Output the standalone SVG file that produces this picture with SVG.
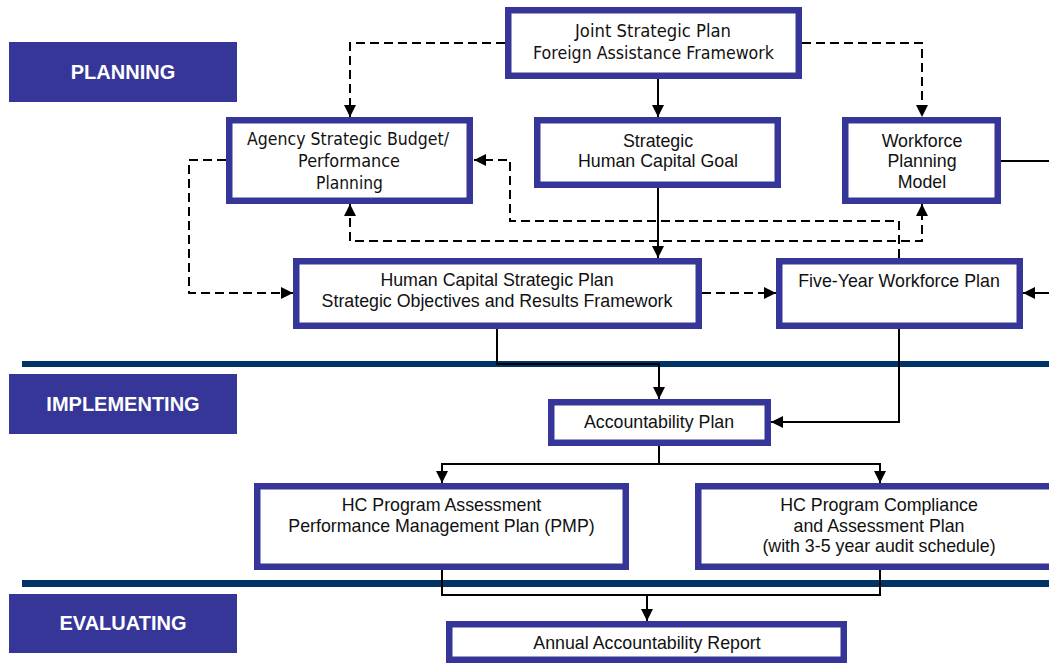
<svg xmlns="http://www.w3.org/2000/svg" width="1049" height="663" viewBox="0 0 1049 663">
<style>
.lbl{fill:#363699}
.lt{font-family:"Liberation Sans",Arial,sans-serif;font-weight:bold;font-size:20px;fill:#fff;text-anchor:middle}
.box{fill:#fff;stroke:#363699;stroke-width:6.5}
.t{font-family:"Liberation Sans",Arial,sans-serif;font-size:17.8px;fill:#111;text-anchor:middle}
.th{font-family:"DejaVu Sans",Tahoma,sans-serif;font-size:17.5px;fill:#111;text-anchor:middle}
.sep{fill:#003366}
.s{fill:none;stroke:#000;stroke-width:2}
.d{fill:none;stroke:#000;stroke-width:2;stroke-dasharray:9,5}
.a{marker-end:url(#ah)}
</style>
<defs>
<marker id="ah" markerUnits="userSpaceOnUse" markerWidth="12" markerHeight="12" refX="12" refY="6" orient="auto-start-reverse" viewBox="0 0 12 12">
<path d="M0,0 L12,6 L0,12 Z" fill="#000"/>
</marker>
</defs>

<g id="labels">
<g id="lbl-planning"><rect class="lbl" x="9" y="42" width="228" height="60"/><text class="lt" x="123" y="78.5">PLANNING</text></g>
<g id="lbl-implementing"><rect class="lbl" x="9" y="374" width="228" height="60"/><text class="lt" x="123" y="410.5">IMPLEMENTING</text></g>
<g id="lbl-evaluating"><rect class="lbl" x="9" y="594" width="228" height="59"/><text class="lt" x="123" y="629.5">EVALUATING</text></g>
</g>

<g id="separators">
<rect class="sep" x="22" y="361" width="1027" height="6"/>
<rect class="sep" x="22" y="580" width="1027" height="7"/>
</g>

<g id="connectors">
<path class="s a" d="M658,79 V117"/>
<path class="s a" d="M658,188 V258"/>
<path class="s a" d="M497,329 V364 H659 V399"/>
<path class="s a" d="M899,329 V422 H771"/>
<path class="s" d="M1001,161 H1049"/>
<path class="s a" d="M1049,293 H1023"/>
<path class="s" d="M659,446 V464"/>
<path class="s a" d="M659,464 H442 V483"/>
<path class="s a" d="M659,464 H880 V483"/>
<path class="s" d="M442,570 V595 H880 V570"/>
<path class="s a" d="M647,595 V621"/>
<path class="d a" d="M505,43 H350 V117"/>
<path class="d a" d="M802,43 H922 V117"/>
<path class="d a" d="M226,160 H189 V293 H293"/>
<path class="d a" d="M702,293 H776"/>
<path class="d a" d="M899,258 V221 H510 V160 H474"/>
<path class="d a" d="M350,204 V241 H922 V204" marker-start="url(#ah)"/>
</g>

<g id="joint">
<rect class="box" x="508.25" y="10.25" width="290.5" height="65.5"/>
<text class="th" x="653" y="37" textLength="156" lengthAdjust="spacingAndGlyphs">Joint Strategic Plan</text>
<text class="th" x="653.5" y="59" textLength="241" lengthAdjust="spacingAndGlyphs">Foreign Assistance Framework</text>
</g>
<g id="agency">
<rect class="box" x="229.25" y="120.25" width="240.5" height="80.5"/>
<text class="th" x="348" y="145" textLength="202" lengthAdjust="spacingAndGlyphs">Agency Strategic Budget/</text>
<text class="th" x="349" y="167" textLength="102" lengthAdjust="spacingAndGlyphs">Performance</text>
<text class="th" x="349.5" y="188.5" textLength="67" lengthAdjust="spacingAndGlyphs">Planning</text>
</g>
<g id="strategic">
<rect class="box" x="537.25" y="120.25" width="240.5" height="64.5"/>
<text class="t" x="658" y="146.5">Strategic</text>
<text class="t" x="658" y="167">Human Capital Goal</text>
</g>
<g id="workforce">
<rect class="box" x="845.25" y="120.25" width="152.5" height="80.5"/>
<text class="t" x="922" y="146.5">Workforce</text>
<text class="t" x="922" y="167">Planning</text>
<text class="t" x="922" y="188">Model</text>
</g>
<g id="hcsp">
<rect class="box" x="296.25" y="261.25" width="402.5" height="64.5"/>
<text class="t" x="497" y="286">Human Capital Strategic Plan</text>
<text class="t" x="497" y="307">Strategic Objectives and Results Framework</text>
</g>
<g id="fiveyear">
<rect class="box" x="779.25" y="261.25" width="240.5" height="64.5"/>
<text class="t" x="899" y="287">Five-Year Workforce Plan</text>
</g>
<g id="accountability">
<rect class="box" x="551.25" y="402.25" width="216.5" height="40.5"/>
<text class="t" x="659" y="427.5">Accountability Plan</text>
</g>
<g id="assessment">
<rect class="box" x="257.25" y="486.25" width="368.5" height="80.5"/>
<text class="t" x="441.5" y="511">HC Program Assessment</text>
<text class="t" x="441.5" y="532">Performance Management Plan (PMP)</text>
</g>
<g id="compliance">
<rect class="box" x="698.25" y="486.25" width="364" height="80.5"/>
<text class="t" x="879" y="511">HC Program Compliance</text>
<text class="t" x="879" y="532">and Assessment Plan</text>
<text class="t" x="879" y="552">(with 3-5 year audit schedule)</text>
</g>
<g id="annual">
<rect class="box" x="449.25" y="624.25" width="394.5" height="35.5"/>
<text class="t" x="647" y="649">Annual Accountability Report</text>
</g>
</svg>
